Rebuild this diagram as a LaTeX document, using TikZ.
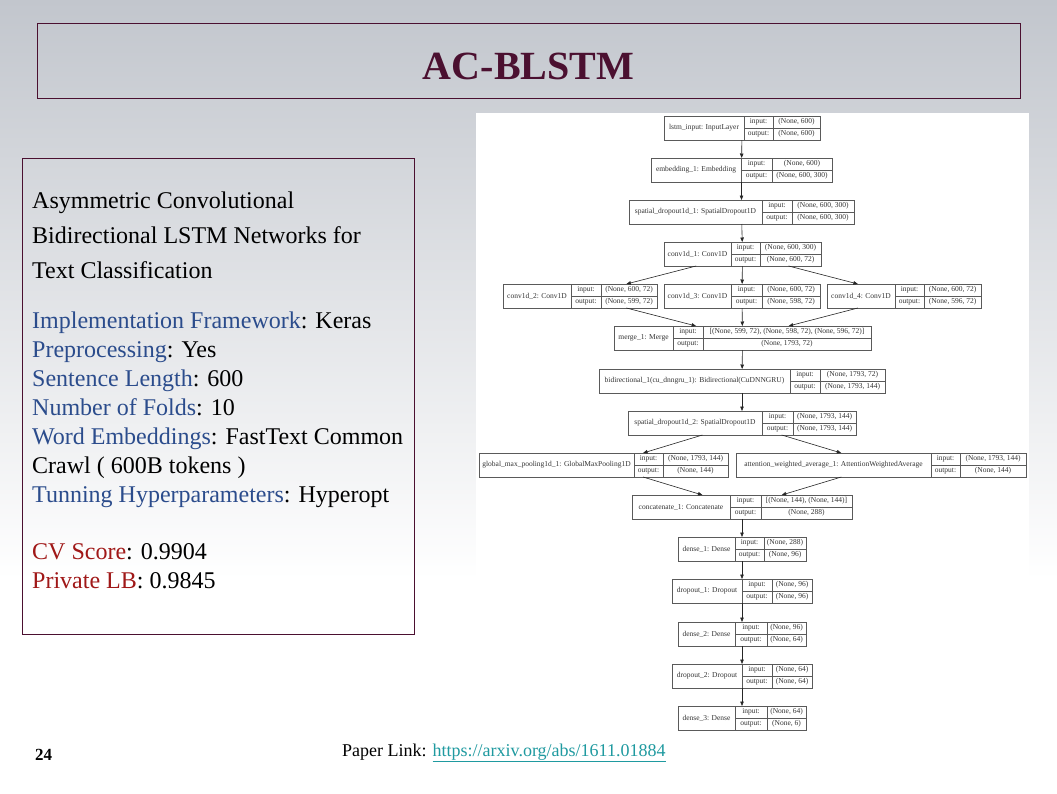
\documentclass[tikz,border=0pt]{standalone}
\usepackage{fontspec}
\setmainfont{Liberation Serif}
\usetikzlibrary{arrows.meta}
\usepackage{xcolor}
\definecolor{slidegray}{HTML}{C2C6CD}
\definecolor{titlemaroon}{HTML}{4B1030}
\definecolor{keyblue}{HTML}{2B4C8C}
\definecolor{scorered}{HTML}{A01818}
\definecolor{linkteal}{HTML}{1F9AA0}
\definecolor{cellline}{HTML}{5A5A5A}

% one keras layer: name, left, top, label end, input end, right, label, input, output
\newcommand{\layerbox}[9]{%
  \node[cell, minimum width=#4-#2, minimum height=24] (#1-name) at (#2,#3) {#7};
  \node[cell, minimum width=#5-#4, minimum height=12] (#1-inp) at (#4,#3) {input:};
  \node[cell, minimum width=#5-#4, minimum height=12] (#1-outp) at (#4,#3+12) {output:};
  \node[cell, minimum width=#6-#5, minimum height=12] (#1-inv) at (#5,#3) {#8};
  \node[cell, minimum width=#6-#5, minimum height=12] (#1-outv) at (#5,#3+12) {#9};
  \node[cell, minimum width=#6-#2, minimum height=24] (#1) at (#2,#3) {};
}

\begin{document}
\begin{tikzpicture}[
    x=1pt, y=-1pt,
    cell/.style={
        draw=cellline,
        line width=0.5pt,
        inner sep=0pt,
        outer sep=0pt,
        anchor=north west,
        text=black!80,
        font=\fontsize{7.5}{8}\selectfont,
    },
    edge/.style={
        draw=black!85,
        line width=0.6pt,
        -{Triangle[length=4.5pt,width=3.5pt]},
    },
    info/.style={
        anchor=base west,
        inner sep=0pt,
        font=\fontsize{24}{28}\selectfont,
    },
]
\useasboundingbox (0,0) rectangle (1057,793);

% slide background
\fill[white] (0,0) rectangle (1057,793);
\shade[top color=slidegray, bottom color=white] (0,0) rectangle (1057,580);

% title
\node[draw=titlemaroon, line width=0.8pt, minimum width=983, minimum height=75,
      anchor=north west, inner sep=0pt] (titlebox) at (37,23) {};
\node[anchor=base, text=titlemaroon, font=\bfseries\fontsize{40}{44}\selectfont]
      (title) at (528.5,79) {AC-BLSTM};

% left panel
\node[draw=titlemaroon, line width=0.6pt, minimum width=392, minimum height=476,
      anchor=north west, inner sep=0pt] (infobox) at (22,158) {};
\node[info] (paper1) at (32,208) {Asymmetric Convolutional};
\node[info] (paper2) at (32,243) {Bidirectional LSTM Networks for};
\node[info] (paper3) at (32,278) {Text Classification};
\node[info] (frame) at (32,328) {\textcolor{keyblue}{Implementation Framework}: Keras};
\node[info] (prep) at (32,357) {\textcolor{keyblue}{Preprocessing}: Yes};
\node[info] (sentlen) at (32,386) {\textcolor{keyblue}{Sentence Length}: 600};
\node[info] (folds) at (32,415) {\textcolor{keyblue}{Number of Folds}: 10};
\node[info] (embed) at (32,444) {\textcolor{keyblue}{Word Embeddings}: FastText Common};
\node[info] (crawl) at (32,473) {Crawl ( 600B tokens )};
\node[info] (hyper) at (32,502) {\textcolor{keyblue}{Tunning Hyperparameters}: Hyperopt};
\node[info] (cvscore) at (32,559) {\textcolor{scorered}{CV Score}: 0.9904};
\node[info] (privlb) at (32,588) {\textcolor{scorered}{Private LB}: 0.9845};

% model plot
\node[fill=white, minimum width=553, minimum height=623, anchor=north west,
      inner sep=0pt] (panel) at (476,113) {};

\layerbox{lstm}{664}{116}{744}{773}{820}{lstm\_input: InputLayer}{(None, 600)}{(None, 600)}
\layerbox{emb}{651}{158}{741}{772}{832}{embedding\_1: Embedding}{(None, 600)}{(None, 600, 300)}
\layerbox{sdrop1}{629}{200}{762}{792}{854}{spatial\_dropout1d\_1: SpatialDropout1D}{(None, 600, 300)}{(None, 600, 300)}
\layerbox{conv1}{664}{242}{731}{760}{821}{conv1d\_1: Conv1D}{(None, 600, 300)}{(None, 600, 72)}
\layerbox{conv2}{503}{284}{571}{601}{657}{conv1d\_2: Conv1D}{(None, 600, 72)}{(None, 599, 72)}
\layerbox{conv3}{664}{284}{731}{762}{820}{conv1d\_3: Conv1D}{(None, 600, 72)}{(None, 598, 72)}
\layerbox{conv4}{827}{284}{895}{924}{981}{conv1d\_4: Conv1D}{(None, 600, 72)}{(None, 596, 72)}
\layerbox{merge}{614}{326}{673}{703}{871}{merge\_1: Merge}{[(None, 599, 72), (None, 598, 72), (None, 596, 72)]}{(None, 1793, 72)}
\layerbox{bigru}{599}{369}{790}{820}{885}{bidirectional\_1(cu\_dnngru\_1): Bidirectional(CuDNNGRU)}{(None, 1793, 72)}{(None, 1793, 144)}
\layerbox{sdrop2}{628}{411}{762}{793}{856}{spatial\_dropout1d\_2: SpatialDropout1D}{(None, 1793, 144)}{(None, 1793, 144)}
\layerbox{maxpool}{479}{453}{634}{663}{728}{global\_max\_pooling1d\_1: GlobalMaxPooling1D}{(None, 1793, 144)}{(None, 144)}
\layerbox{attn}{736}{453}{931}{960}{1026}{attention\_weighted\_average\_1: AttentionWeightedAverage}{(None, 1793, 144)}{(None, 144)}
\layerbox{concat}{632}{495}{730}{761}{852}{concatenate\_1: Concatenate}{[(None, 144), (None, 144)]}{(None, 288)}
\layerbox{dense1}{678}{537}{735}{764}{806}{dense\_1: Dense}{(None, 288)}{(None, 96)}
\layerbox{drop1}{672}{579}{742}{772}{812}{dropout\_1: Dropout}{(None, 96)}{(None, 96)}
\layerbox{dense2}{678}{622}{735}{767}{806}{dense\_2: Dense}{(None, 96)}{(None, 64)}
\layerbox{drop2}{672}{664}{742}{772}{812}{dropout\_2: Dropout}{(None, 64)}{(None, 64)}
\layerbox{dense3}{678}{706}{735}{767}{806}{dense\_3: Dense}{(None, 64)}{(None, 6)}

\draw[edge] (lstm) -- (emb);
\draw[edge] (emb) -- (sdrop1);
\draw[edge] (sdrop1) -- (conv1);
\draw[edge] (conv1) -- (conv2);
\draw[edge] (conv1) -- (conv3);
\draw[edge] (conv1) -- (conv4);
\draw[edge] (conv2) -- (merge);
\draw[edge] (conv3) -- (merge);
\draw[edge] (conv4) -- (merge);
\draw[edge] (merge) -- (bigru);
\draw[edge] (bigru) -- (sdrop2);
\draw[edge] (sdrop2) -- (maxpool);
\draw[edge] (sdrop2) -- (attn);
\draw[edge] (maxpool) -- (concat);
\draw[edge] (attn) -- (concat);
\draw[edge] (concat) -- (dense1);
\draw[edge] (dense1) -- (drop1);
\draw[edge] (drop1) -- (dense2);
\draw[edge] (dense2) -- (drop2);
\draw[edge] (drop2) -- (dense3);

% footer
\node[anchor=base west, inner sep=0pt, font=\bfseries\fontsize{17}{20}\selectfont]
      (pagenum) at (35,760) {24};
\node[anchor=base west, inner sep=0pt, font=\fontsize{18}{22}\selectfont]
      (paperlink) at (342,756) {Paper Link: \textcolor{linkteal}{\underline{https://arxiv.org/abs/1611.01884}}};

\end{tikzpicture}
\end{document}
